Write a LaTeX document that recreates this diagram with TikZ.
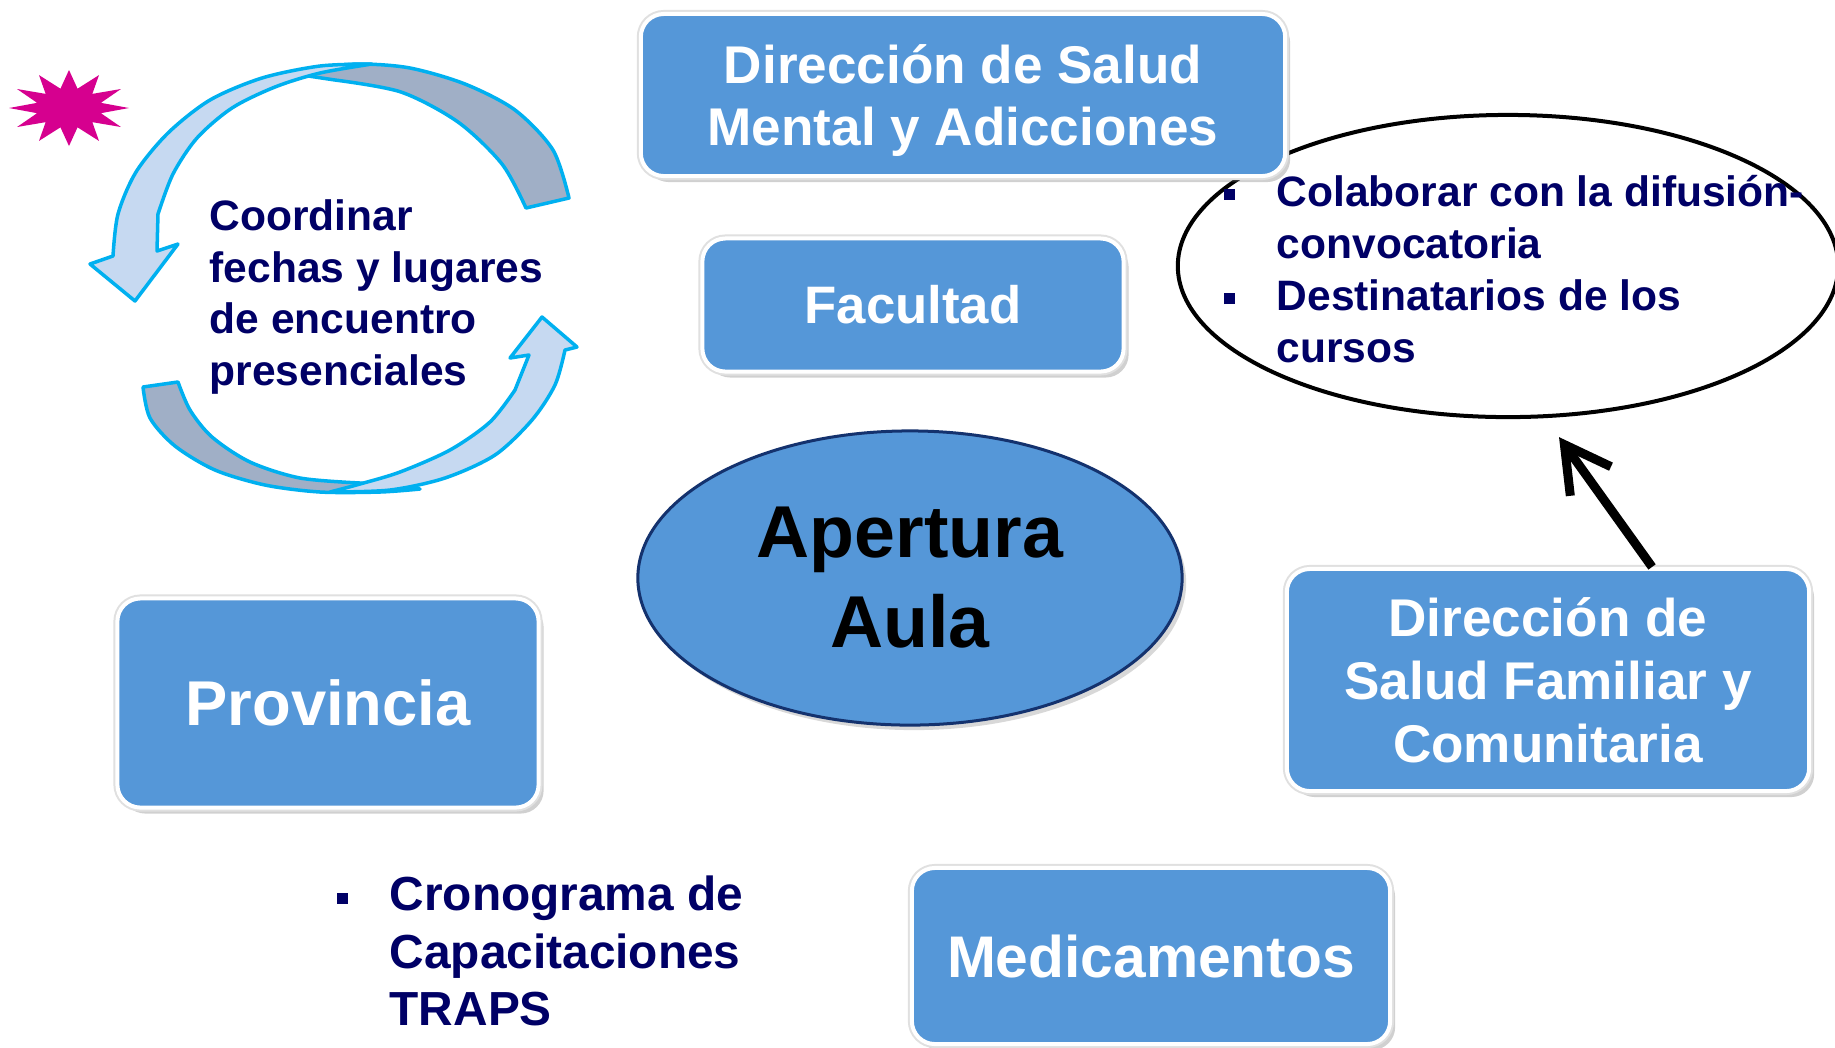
\documentclass[tikz,border=0pt]{standalone}
\usepackage{fontspec}
\setmainfont{Liberation Sans}
\usepackage{tikz}
\usetikzlibrary{shapes.geometric}
\usetikzlibrary{shadows}
\usetikzlibrary{arrows.meta}
\definecolor{boxblue}{RGB}{85,151,216}
\definecolor{navytext}{RGB}{0,0,102}
\definecolor{hubline}{RGB}{20,50,110}
\definecolor{ringcyan}{RGB}{0,176,240}
\definecolor{ringlight}{RGB}{198,217,241}
\definecolor{ringgray}{RGB}{160,175,198}
\definecolor{burstpink}{RGB}{214,0,143}
\tikzstyle{box}=[rectangle, rounded corners=0.23cm, fill=boxblue, draw=white, line width=0.04cm, text=white, align=center, inner sep=0pt, drop shadow={shadow xshift=0.05cm, shadow yshift=-0.06cm, fill=black!60, opacity=0.3}, preaction={draw=black!12, line width=0.08cm}]
\tikzstyle{hub}=[ellipse, fill=boxblue, draw=hubline, line width=0.03cm, inner sep=0pt, align=center, font=\fontsize{20.9}{25.6}\selectfont\bfseries, drop shadow={shadow xshift=0.04cm, shadow yshift=-0.05cm, fill=black!60, opacity=0.25}]
\tikzstyle{bubble}=[ellipse, fill=white, draw=black, line width=0.04cm, inner sep=0pt]
\tikzstyle{note}=[inner sep=0pt, align=left, anchor=west, text=navytext]
\tikzstyle{ringback}=[fill=ringgray, draw=ringcyan, line width=0.035cm, line join=round]
\tikzstyle{ringfront}=[fill=ringlight, draw=ringcyan, line width=0.035cm, line join=round]
\tikzstyle{pointer}=[-{Straight Barb[length=0.45cm, width=0.5cm]}, line width=0.09cm, black]
\newcommand{\sqitem}{\makebox[0.53cm][l]{\rule[0.15em]{0.11cm}{0.11cm}}}
\newcommand{\sqskip}{\hspace*{0.53cm}}

\begin{document}
\begin{tikzpicture}[x=0.01cm, y=-0.01cm]
	\path[use as bounding box, fill=white] (0,0) rectangle (1835,1047);

	%The circling arrows
	\filldraw[ringback] plot[smooth] coordinates {(569,198) (553,150) (515,110) (465,84) (410,68) (360,64) (315,68) (295,74)}
		-- plot[smooth] coordinates {(335,80) (401,92) (458,122) (502,164) (526,208)} -- cycle;
	\filldraw[ringfront] plot[smooth] coordinates {(372,64) (320,66) (262,78) (210,100) (168,133) (136,172) (118,214) (113,256)}
		-- (90,264) -- (135,301) -- (178,244) -- (157,251)
		-- plot[smooth] coordinates {(158,214) (173,174) (197,138) (232,108) (275,87) (320,73) (372,64)} -- cycle;
	\filldraw[ringback] plot[smooth] coordinates {(143,387) (150,418) (175,446) (215,470) (265,485) (320,492) (380,492) (420,489)}
		-- plot[smooth] coordinates {(360,483) (300,478) (250,462) (212,437) (190,410) (178,382)} -- cycle;
	\filldraw[ringfront] plot[smooth] coordinates {(330,492) (390,490) (445,478) (495,455) (532,420) (555,385) (565,350)}
		-- (577,347) -- (542,317) -- (510,358) -- (529,355)
		-- plot[smooth] coordinates {(515,390) (490,422) (450,450) (400,472) (360,484) (330,492)} -- cycle;

	%The burst
	\coordinate (burst) at (69,108);
	\fill[burstpink, shift={(burst)}] (0:60 and 38) \foreach \a in {0,30,...,330} { -- ({\a+15}:33 and 20) -- ({\a+30}:60 and 38) } -- cycle;

	%The bubble with the tasks
	\draw (1508,266) node[bubble, minimum width=6.6cm, minimum height=3.02cm] (difusion) {};

	%The boxes
	\draw (963,95) node[box, minimum width=6.44cm, minimum height=1.62cm, text depth=0pt, font=\fontsize{15.1}{17.9}\selectfont\bfseries] (mental) {Dirección de Salud\\Mental y Adicciones};
	\draw (913,305) node[box, minimum width=4.21cm, minimum height=1.33cm, font=\fontsize{15}{18}\selectfont\bfseries] (facultad) {Facultad};
	\draw (910,578) node[hub, minimum width=5.44cm, minimum height=2.94cm] (aula) {Apertura\\Aula};
	\draw (328,703) node[box, minimum width=4.21cm, minimum height=2.09cm, font=\fontsize{18}{21}\selectfont\bfseries] (provincia) {Provincia};
	\draw (1548,680) node[box, minimum width=5.22cm, minimum height=2.22cm, font=\fontsize{15.1}{17.9}\selectfont\bfseries] (familiar) {Dirección de\\Salud Familiar y\\Comunitaria};
	\draw (1151,956) node[box, minimum width=4.78cm, minimum height=1.76cm, font=\fontsize{16.7}{20}\selectfont\bfseries] (medicamentos) {Medicamentos};

	%The texts
	\node[note, font=\fontsize{12.1}{14.7}\selectfont\bfseries] (coordinar) at (209,297) {Coordinar\\fechas y lugares\\de encuentro\\presenciales};
	\node[note, font=\fontsize{12.1}{14.8}\selectfont\bfseries] (tareas) at (1223,269) {\sqitem Colaborar con la difusión-\\\sqskip convocatoria\\\sqitem Destinatarios de los\\\sqskip cursos};
	\node[note, font=\fontsize{13.6}{16.3}\selectfont\bfseries] (cronograma) at (336,951) {\sqitem Cronograma de\\\sqskip Capacitaciones\\\sqskip TRAPS};

	%The arrow
	\draw[pointer] ([xshift=1.04cm]familiar.north) -- ([xshift=0.51cm, yshift=-0.18cm]difusion.south);
\end{tikzpicture}
\end{document}
